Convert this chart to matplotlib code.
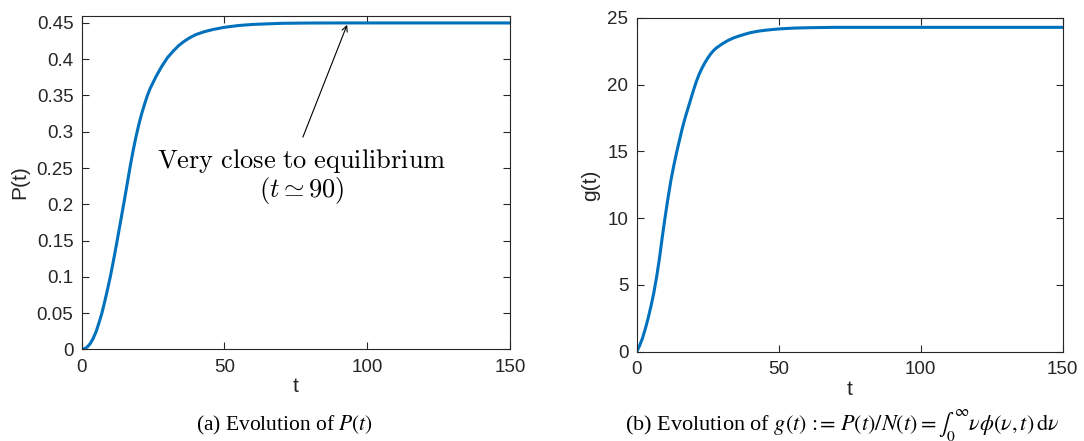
import numpy as np
import matplotlib
matplotlib.use('Agg')
import matplotlib.pyplot as plt

plt.rcParams['font.family'] = ['Liberation Sans', 'DejaVu Sans']

# values
t = [0, 1, 2, 3, 4, 5, 6, 7, 8, 9, 10, 11, 12, 13, 14, 15, 16, 17, 18, 19, 20,
     21, 22, 23, 24, 25, 26, 27, 28, 30, 32, 34, 36, 38, 40, 43, 46, 50, 55, 60,
     70, 80, 90, 100, 120, 150]
P = [0, 0.0008, 0.0035, 0.008, 0.015, 0.024, 0.036, 0.049, 0.065, 0.082, 0.100,
     0.120, 0.141, 0.163, 0.185, 0.207, 0.230, 0.253, 0.274, 0.293, 0.310,
     0.325, 0.338, 0.350, 0.360, 0.368, 0.376, 0.383, 0.390, 0.402, 0.411, 0.419,
     0.425, 0.430, 0.434, 0.438, 0.441, 0.444, 0.4465, 0.448,
     0.4495, 0.4499, 0.45, 0.45, 0.45, 0.45]
g = [0, 0.45, 1.0, 1.7, 2.5, 3.4, 4.4, 5.6, 7.0, 8.6, 10.1,
     11.5, 12.8, 13.9, 14.9, 15.8, 16.7, 17.5, 18.2, 18.9, 19.6,
     20.25, 20.8, 21.25, 21.65, 22.0, 22.3, 22.55, 22.75, 23.05, 23.3, 23.5,
     23.65, 23.78, 23.9, 24.02, 24.1, 24.18, 24.24, 24.27,
     24.3, 24.3, 24.3, 24.3, 24.3, 24.3]

xticks = [0, 50, 100, 150]
p_ticks = [0, 0.05, 0.1, 0.15, 0.2, 0.25, 0.3, 0.35, 0.4, 0.45]
p_labels = ['0', '0.05', '0.1', '0.15', '0.2', '0.25', '0.3', '0.35', '0.4', '0.45']
g_ticks = [0, 5, 10, 15, 20, 25]

line_col = '#0072BD'
ax_col = '#262626'

fig = plt.figure(figsize=(10.84, 4.41), dpi=100)
ax1 = fig.add_axes([0.0754, 0.2079, 0.3951, 0.7565])
ax2 = fig.add_axes([0.5874, 0.2025, 0.3930, 0.7567])

for ax in (ax1, ax2):
    ax.set_xlim(0, 150)
    ax.set_xticks(xticks)
    ax.tick_params(direction='in', top=True, right=True, length=5, width=0.8,
                   colors=ax_col, labelsize=13.5)
    ax.tick_params(axis='x', pad=7)
    ax.tick_params(axis='y', pad=6)
    for s in ax.spines.values():
        s.set_color(ax_col)
        s.set_linewidth(0.8)
    ax.set_xlabel('t', fontsize=15, color=ax_col, labelpad=1)

ax1.plot(t, P, color=line_col, lw=2.2)
ax1.set_ylim(0, 0.46)
ax1.set_yticks(p_ticks)
ax1.set_yticklabels(p_labels)
ax1.set_ylabel('P(t)', fontsize=15, color=ax_col, labelpad=5.5)

ax1.annotate('', xy=(93.3, 0.451), xytext=(77.1, 0.289),
             arrowprops=dict(arrowstyle='->', lw=0.8, color='k'))
ax1.text(77.0, 0.259, r'$\mathrm{Very\ close\ to\ equilibrium}$', ha='center', va='center',
         fontsize=19, math_fontfamily='cm')
ax1.text(77.0, 0.219, r'$(t \simeq 90)$', ha='center', va='center',
         fontsize=19, math_fontfamily='cm')

ax2.plot(t, g, color=line_col, lw=2.2)
ax2.set_ylim(0, 25)
ax2.set_yticks(g_ticks)
ax2.set_ylabel('g(t)', fontsize=15, color=ax_col, labelpad=5.5)

fig.text(285 / 1084, 1 - 430 / 441, r'(a) Evolution of $P(t)$', ha='center', va='baseline',
         fontsize=15.5, family='Liberation Serif', math_fontfamily='stix')
fig.text(842 / 1084, 1 - 430 / 441,
         r'(b) Evolution of $g(t)\,{:}\!\!{=}\,P(t)/N(t) = \int_0^\infty \nu\phi(\nu,t)\,\mathrm{d}\nu$',
         ha='center', va='baseline', fontsize=16, family='Liberation Serif', math_fontfamily='stix')

fig.savefig('out.png', dpi=100)
